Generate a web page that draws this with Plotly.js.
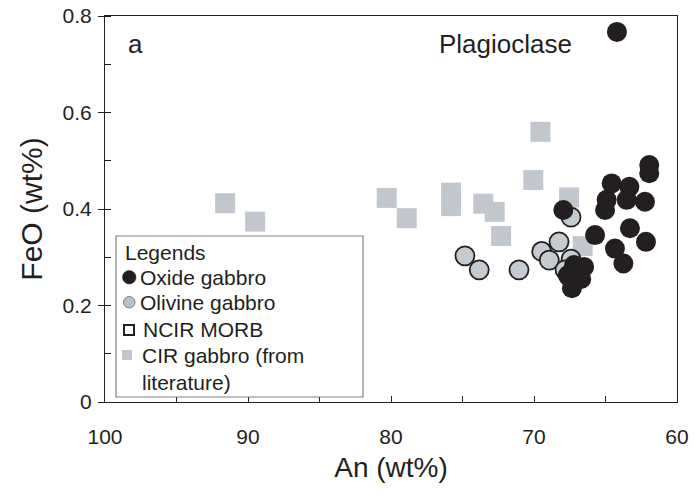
<!DOCTYPE html>
<html>
<head>
<meta charset="utf-8">
<script src="https://cdn.plot.ly/plotly-3.0.1.min.js"></script>
<style>
html,body{margin:0;padding:0;background:#fff;}
#wrap{position:relative;width:694px;height:498px;}
#chart{width:694px;height:498px;}
</style>
</head>
<body>
<div id="wrap"><div id="chart"></div></div>
<script>
// CIR gabbro (from literature)
const cirAn  = [91.6, 89.5, 80.3, 78.9, 75.8, 75.8, 73.55, 72.75, 72.3, 70.05, 69.55, 67.55, 66.6];
const cirFeO = [0.412, 0.374, 0.423, 0.381, 0.434, 0.406, 0.411, 0.394, 0.344, 0.460, 0.560, 0.424, 0.323];

// Olivine gabbro
const olAn  = [74.83, 73.83, 71.05, 69.46, 68.93, 68.25, 67.41, 67.41, 67.83, 67.6];
const olFeO = [0.303, 0.274, 0.274, 0.312, 0.294, 0.332, 0.383, 0.296, 0.274, 0.262];

// Oxide gabbro
const oxAn  = [64.2, 61.94, 61.94, 64.57, 63.33, 63.52, 62.24, 64.92, 65.03, 67.95, 65.73, 63.29, 62.17, 64.34, 63.75, 67.2, 66.5, 66.7, 67.35, 67.6];
const oxFeO = [0.767, 0.491, 0.474, 0.453, 0.446, 0.419, 0.415, 0.419, 0.398, 0.398, 0.346, 0.360, 0.332, 0.318, 0.287, 0.284, 0.280, 0.255, 0.236, 0.263];

// NCIR MORB (listed in the legend, no points in this panel)
const morbAn = [];
const morbFeO = [];

const xTicks = [100, 90, 80, 70, 60];
const yTicks = [0, 0.2, 0.4, 0.6, 0.8];
const yTickText = ['0', '0.2', '0.4', '0.6', '0.8'];

const legendTitle = 'Legends';
const legendNames = ['Oxide gabbro', 'Olivine gabbro', 'NCIR MORB', 'CIR gabbro (from', 'literature)'];

const FONT = 'Liberation Sans, Arial, sans-serif';
const INK = '#231f20';
const OX_COLOR = INK, OL_COLOR = '#c6cbd2', CIR_COLOR = '#c2c7ce';

const traces = [
  {x: cirAn, y: cirFeO, mode: 'markers', type: 'scatter', name: 'CIR gabbro (from literature)',
   marker: {symbol: 'square', size: 20, color: CIR_COLOR, line: {width: 0}}},
  {x: olAn, y: olFeO, mode: 'markers', type: 'scatter', name: 'Olivine gabbro',
   marker: {symbol: 'circle', size: 19, color: OL_COLOR, line: {width: 1.8, color: INK}}},
  {x: oxAn, y: oxFeO, mode: 'markers', type: 'scatter', name: 'Oxide gabbro',
   marker: {symbol: 'circle', size: 20, color: OX_COLOR, line: {width: 0}}},
  {x: morbAn, y: morbFeO, mode: 'markers', type: 'scatter', name: 'NCIR MORB',
   marker: {symbol: 'square-open', size: 12, color: INK}}
];

// pixel -> paper helpers for the hand-drawn legend box (plot area 105..677 x 16..402)
const L = 105, R = 677, T = 16, B = 402;
const px = v => (v - L) / (R - L);
const py = v => (B - v) / (B - T);

const legendRows = [277, 302, 329, 355, 382];
const textX = [138, 138, 141, 140, 140];

const shapes = [
  // legend box
  {type: 'rect', xref: 'paper', yref: 'paper', x0: px(116), x1: px(363), y0: py(397), y1: py(236),
   line: {color: '#808080', width: 1.2}, fillcolor: '#ffffff', layer: 'above'},
  // legend symbols
  {type: 'circle', xref: 'paper', yref: 'paper', x0: px(122.5), x1: px(136), y0: py(284), y1: py(270.5),
   line: {color: OX_COLOR, width: 0.5}, fillcolor: OX_COLOR, layer: 'above'},
  {type: 'circle', xref: 'paper', yref: 'paper', x0: px(123.5), x1: px(135), y0: py(308), y1: py(296.5),
   line: {color: '#7c7f85', width: 1}, fillcolor: '#b9c0cb', layer: 'above'},
  {type: 'rect', xref: 'paper', yref: 'paper', x0: px(124), x1: px(134), y0: py(335), y1: py(325),
   line: {color: INK, width: 2}, fillcolor: 'rgba(0,0,0,0)', layer: 'above'},
  {type: 'rect', xref: 'paper', yref: 'paper', x0: px(122), x1: px(132), y0: py(360), y1: py(350),
   line: {width: 0}, fillcolor: CIR_COLOR, layer: 'above'}
];

const annotations = [
  {text: 'a', xref: 'paper', yref: 'paper', x: px(126), y: py(44), xanchor: 'left', yanchor: 'middle',
   showarrow: false, font: {size: 26, family: FONT, color: INK}},
  {text: 'Plagioclase', xref: 'paper', yref: 'paper', x: px(437), y: py(44), xanchor: 'left', yanchor: 'middle',
   showarrow: false, font: {size: 26, family: FONT, color: INK}},
  {text: legendTitle, xref: 'paper', yref: 'paper', x: px(123), y: py(253), xanchor: 'left', yanchor: 'middle',
   showarrow: false, font: {size: 21, family: FONT, color: INK}}
];
legendNames.forEach((n, i) => annotations.push({
  text: n, xref: 'paper', yref: 'paper', x: px(textX[i]), y: py(legendRows[i]), xanchor: 'left', yanchor: 'middle',
  showarrow: false, font: {size: 21, family: FONT, color: INK}
}));

const layout = {
  width: 694, height: 498,
  margin: {l: L, r: 694 - R, t: T, b: 498 - B},
  paper_bgcolor: '#fff', plot_bgcolor: '#fff',
  showlegend: false,
  font: {family: FONT, color: INK},
  xaxis: {
    range: [100, 60], tickvals: xTicks, ticktext: xTicks.map(String),
    ticks: 'inside', ticklen: 6, tickwidth: 1, tickcolor: INK,
    minor: {dtick: 5, ticks: 'inside', ticklen: 6, tickwidth: 1, tickcolor: INK},
    showline: true, linecolor: INK, linewidth: 1, mirror: true,
    showgrid: false, zeroline: false,
    tickfont: {size: 21, family: FONT, color: INK},
    ticklabelstandoff: 16,
    title: {text: 'An (wt%)', font: {size: 28, family: FONT, color: INK}, standoff: 10}
  },
  yaxis: {
    range: [0, 0.8], tickvals: yTicks, ticktext: yTickText,
    ticks: 'outside', ticklen: 6, tickwidth: 1, tickcolor: INK,
    minor: {dtick: 0.1, ticks: 'inside', ticklen: 6, tickwidth: 1, tickcolor: INK},
    showline: true, linecolor: INK, linewidth: 1, mirror: true,
    showgrid: false, zeroline: false,
    tickfont: {size: 21, family: FONT, color: INK},
    ticklabelstandoff: 2,
    title: {text: 'FeO (wt%)', font: {size: 30, family: FONT, color: INK}, standoff: 11}
  },
  shapes: shapes,
  annotations: annotations
};

Plotly.newPlot('chart', traces, layout, {displayModeBar: false, staticPlot: true});
</script>
</body>
</html>
